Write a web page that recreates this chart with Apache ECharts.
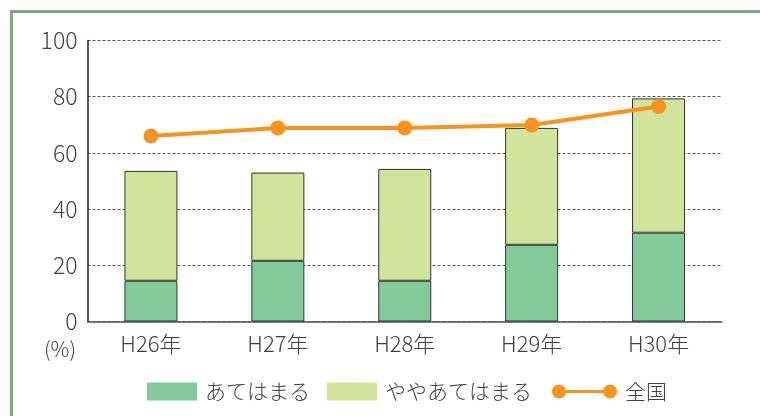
<!DOCTYPE html>
<html><head><meta charset="utf-8">
<script src="https://cdn.jsdelivr.net/npm/echarts@6/dist/echarts.min.js"></script>
<style>html,body{margin:0;padding:0;background:#fff}#c{width:760px;height:416px}</style>
</head><body><div id="c"></div>
<script>
const categories = ['H26年','H27年','H28年','H29年','H30年'];
const applies = [14.5, 21.6, 14.5, 27.3, 31.6];
const somewhatApplies = [39.1, 31.4, 39.8, 41.6, 47.8];
const national = [66.0, 68.9, 68.9, 69.9, 76.5];
const yTicks = [0, 20, 40, 60, 80, 100];

const FONT = '"Noto Sans CJK JP", "Noto Sans", sans-serif';
const TXT = '#404040';
const legendText = {fontFamily: FONT, fontSize: 21, fontWeight: 300, color: TXT, padding: [0,0,0,3]};
const chart = echarts.init(document.getElementById('c'), null, {renderer: 'canvas'});
chart.setOption({
  animation: false,
  textStyle: {fontFamily: FONT},
  grid: {left: 87.5, right: 38, top: 40.5, bottom: 94.5},
  legend: [{
    data: ['あてはまる'], left: 147, top: 381, padding: 0,
    itemWidth: 50, itemHeight: 18, icon: 'rect',
    itemStyle: {borderWidth: 0}, textStyle: legendText
  }, {
    data: ['ややあてはまる'], left: 327, top: 381, padding: 0,
    itemWidth: 50, itemHeight: 18, icon: 'rect',
    itemStyle: {borderWidth: 0}, textStyle: legendText
  }, {
    data: [{name: '全国', icon: 'path://M7,0A7,7 0 1 1 7,14A7,7 0 1 1 7,0Z M58,0A7,7 0 1 1 58,14A7,7 0 1 1 58,0Z M7,5.5L58,5.5L58,8.5L7,8.5Z'}],
    left: 552, top: 381, padding: 0,
    itemWidth: 65, itemHeight: 14,
    textStyle: legendText
  }],
  xAxis: {
    type: 'category', data: categories,
    axisLine: {show: true, lineStyle: {color: '#555', width: 1.5}},
    axisTick: {show: false},
    axisLabel: {fontFamily: FONT, fontSize: 22, fontWeight: 300, color: TXT, margin: 11}
  },
  yAxis: {
    type: 'value', min: 0, max: 100, interval: 20,
    axisLine: {show: true, lineStyle: {color: '#222', width: 1.5}},
    axisTick: {show: false},
    axisLabel: {fontFamily: FONT, fontSize: 23, fontWeight: 300, color: TXT, margin: 10,
      formatter: v => yTicks.includes(v) ? String(v) : ''},
    splitLine: {show: true, lineStyle: {color: '#555', width: 1, type: [3, 2]}}
  },
  graphic: [
    {type: 'rect', shape: {x: 11.5, y: 11.5, width: 800, height: 500},
     style: {fill: 'none', stroke: '#7fa97f', lineWidth: 3}, z: 100},
    {type: 'text', left: 44, top: 339,
     style: {text: '(%)', font: '300 21px ' + FONT, fill: TXT}}
  ],
  series: [{
    name: 'あてはまる', type: 'bar', stack: 'a', data: applies, barWidth: 53,
    itemStyle: {color: '#82ca9a', borderColor: '#333', borderWidth: 1}
  }, {
    name: 'ややあてはまる', type: 'bar', stack: 'a', data: somewhatApplies, barWidth: 53,
    itemStyle: {color: '#d0e49b', borderColor: '#333', borderWidth: 1}
  }, {
    name: '全国', type: 'line', data: national,
    symbol: 'circle', symbolSize: 15,
    lineStyle: {color: '#f7931e', width: 4},
    itemStyle: {color: '#f7931e'}, z: 5
  }]
});
</script></body></html>
